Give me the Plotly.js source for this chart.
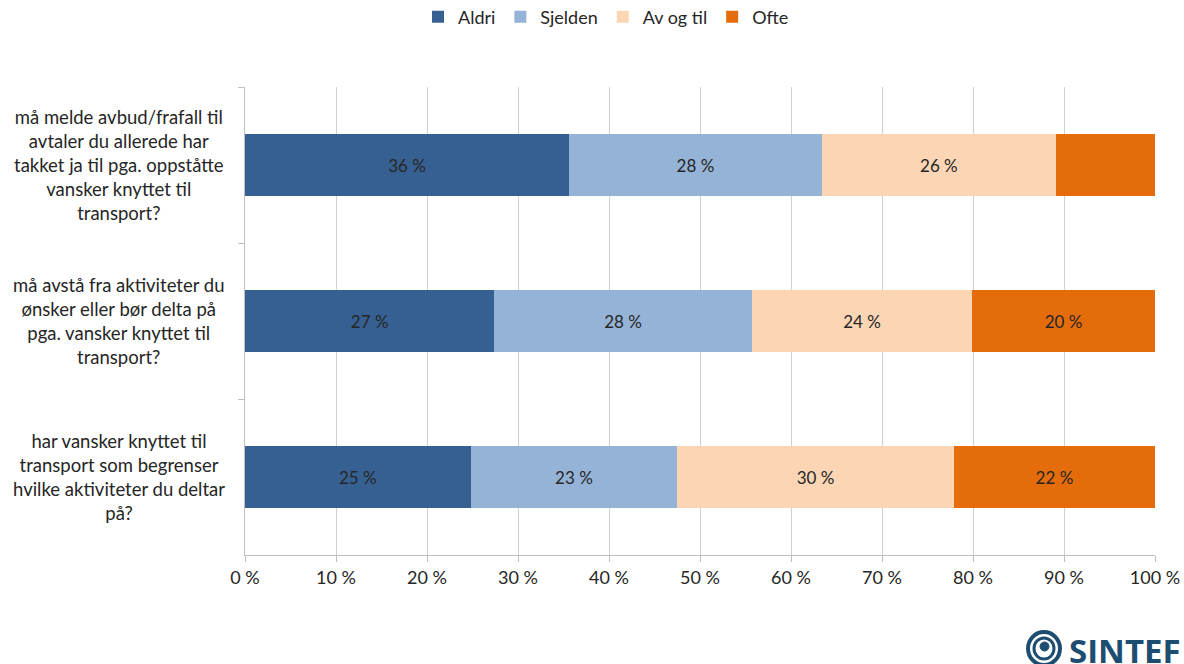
<!DOCTYPE html>
<html>
<head>
<meta charset="utf-8">
<script src="https://cdn.plot.ly/plotly-3.0.1.min.js"></script>
<style>
html,body{margin:0;padding:0;background:#fff;}
#chart{width:1184px;height:664px;}
</style>
</head>
<body>
<div id="chart"></div>
<script>
const categories = [
  "må melde avbud/frafall til<br>avtaler du allerede har<br>takket ja til pga. oppståtte<br>vansker knyttet til<br>transport?",
  "må avstå fra aktiviteter du<br>ønsker eller bør delta på<br>pga. vansker knyttet til<br>transport?",
  "har vansker knyttet til<br>transport som begrenser<br>hvilke aktiviteter du deltar<br>på?"
];
const categoryKeys = ["q1", "q2", "q3"];
const seriesNames = ["Aldri", "Sjelden", "Av og til", "Ofte"];
const aldri   = [35.6, 27.4, 24.8];
const sjelden = [27.8, 28.3, 22.7];
const avogtil = [25.7, 24.2, 30.4];
const ofte    = [10.9, 20.1, 22.1];
const aldriLabels   = ["36 %", "27 %", "25 %"];
const sjeldenLabels = ["28 %", "28 %", "23 %"];
const avogtilLabels = ["26 %", "24 %", "30 %"];
const ofteLabels    = ["", "20 %", "22 %"];
const tickVals = [0, 10, 20, 30, 40, 50, 60, 70, 80, 90, 100];
const tickText = ["0 %", "10 %", "20 %", "30 %", "40 %", "50 %", "60 %", "70 %", "80 %", "90 %", "100 %"];

const colors = ["#376092", "#95b3d7", "#fcd5b5", "#e46c0a"];
const FONT = "Lato, 'Open Sans', sans-serif";
const seriesValues = [aldri, sjelden, avogtil, ofte];
const seriesLabels = [aldriLabels, sjeldenLabels, avogtilLabels, ofteLabels];

const traces = seriesNames.map((name, i) => ({
  type: "bar",
  orientation: "h",
  name: name,
  y: categoryKeys,
  x: seriesValues[i],
  text: seriesLabels[i],
  textposition: "inside",
  insidetextanchor: "middle",
  textangle: 0,
  textfont: {family: FONT, size: 17, color: "#262626"},
  hoverinfo: "x+name",
  marker: {color: colors[i], line: {width: 0}}
}));

const annotations = categories.map((c, i) => ({
  text: c,
  xref: "paper", yref: "y",
  x: -0.139, y: categoryKeys[i],
  xanchor: "center", yanchor: "middle",
  align: "center",
  showarrow: false,
  font: {family: FONT, size: 18.5, color: "#262626"}
}));
annotations.push({
  text: "<b>SINTEF</b>",
  xref: "paper", yref: "paper",
  x: (1067 - 245) / 910, y: (555 - 650) / 468,
  xanchor: "left", yanchor: "middle",
  showarrow: false,
  font: {family: "'Open Sans', sans-serif", size: 33, color: "#1d4e72"}
});

const px = v => (v - 245) / 910;
const py = v => (555 - v) / 468;
const shapes = [
  {type: "circle", xref: "paper", yref: "paper", x0: px(1028), x1: px(1060), y0: py(632), y1: py(665),
   line: {color: "#1d4e72", width: 4}, fillcolor: "rgba(0,0,0,0)"},
  {type: "circle", xref: "paper", yref: "paper", x0: px(1034), x1: px(1054), y0: py(638), y1: py(659),
   line: {color: "#1d4e72", width: 3}, fillcolor: "rgba(0,0,0,0)"},
  {type: "circle", xref: "paper", yref: "paper", x0: px(1040), x1: px(1049), y0: py(642), y1: py(651),
   line: {color: "#1d4e72", width: 1}, fillcolor: "#1d4e72"}
];

const layout = {
  width: 1184, height: 664,
  margin: {l: 245, r: 29, t: 87, b: 109, pad: 0, autoexpand: false},
  paper_bgcolor: "#ffffff",
  plot_bgcolor: "#ffffff",
  barmode: "stack",
  bargap: 0.6,
  font: {family: FONT, size: 16, color: "#262626"},
  showlegend: true,
  legend: {
    orientation: "h",
    x: (606 - 245) / 910, xanchor: "center",
    y: py(17), yanchor: "middle",
    font: {family: FONT, size: 18, color: "#262626"},
    itemwidth: 30,
    tracegroupgap: 0,
    traceorder: "normal",
    bgcolor: "rgba(0,0,0,0)"
  },
  xaxis: {
    range: [0, 100],
    tickvals: tickVals,
    ticktext: tickText,
    showgrid: true,
    gridcolor: "#d0d0d0",
    gridwidth: 1,
    zeroline: false,
    showline: true,
    linecolor: "#bfbfbf",
    linewidth: 1,
    ticks: "outside",
    ticklen: 6,
    tickcolor: "#bfbfbf",
    tickfont: {family: FONT, size: 18, color: "#262626"},
    fixedrange: true
  },
  yaxis: {
    type: "category",
    categoryorder: "array",
    categoryarray: categoryKeys,
    autorange: "reversed",
    showticklabels: false,
    showgrid: false,
    zeroline: false,
    showline: true,
    linecolor: "#bfbfbf",
    linewidth: 1,
    ticks: "outside",
    tickson: "boundaries",
    ticklen: 6,
    tickcolor: "#bfbfbf",
    fixedrange: true
  },
  annotations: annotations,
  shapes: shapes
};

Plotly.newPlot("chart", traces, layout, {displayModeBar: false, staticPlot: true});
</script>
</body>
</html>
